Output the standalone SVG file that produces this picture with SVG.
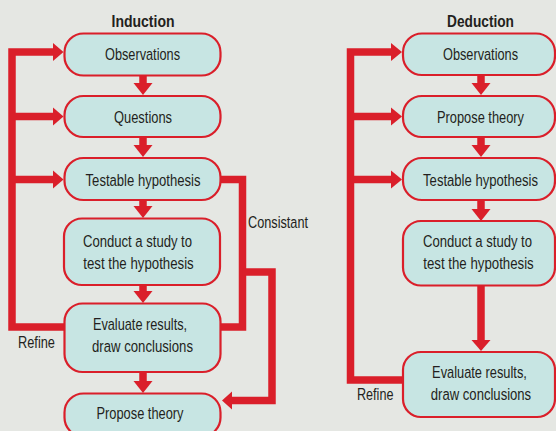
<svg xmlns="http://www.w3.org/2000/svg" width="556" height="431" viewBox="0 0 556 431">
<style>
.box{fill:#c7e5e3;stroke:#da1f2a;stroke-width:2.2}
.ln{fill:none;stroke:#da1f2a;stroke-width:7.5;stroke-linejoin:miter}
.hd{fill:#da1f2a}
text{font-family:"Liberation Sans",Arial,sans-serif;fill:#231f20;font-size:17px}
.c{text-anchor:middle}
.t{font-weight:bold;font-size:16.5px}
.lb{font-size:16.5px}
</style>
<rect width="556" height="431" fill="#e5e7e3"/>

<g id="connectors">
  <path class="ln" d="M64 327 H12 V52 H54"/>
  <path class="ln" d="M12 116.5 H54"/>
  <path class="ln" d="M12 179.5 H54"/>
  <polygon class="hd" points="53,43 63.5,52 53,61"/>
  <polygon class="hd" points="53,107.5 63.5,116.5 53,125.5"/>
  <polygon class="hd" points="53,170.5 63.5,179.5 53,188.5"/>
  <path class="ln" d="M143 76 V84"/>
  <polygon class="hd" points="133.5,83 152.5,83 143,95"/>
  <path class="ln" d="M143 137 V146"/>
  <polygon class="hd" points="133.5,145 152.5,145 143,157"/>
  <path class="ln" d="M143 200 V207"/>
  <polygon class="hd" points="133.5,206 152.5,206 143,218"/>
  <path class="ln" d="M143 285 V292"/>
  <polygon class="hd" points="133.5,291 152.5,291 143,303"/>
  <path class="ln" d="M143 372 V382"/>
  <polygon class="hd" points="133.5,381 152.5,381 143,393"/>
  <path class="ln" d="M220 179.5 H242.5 V327 H220"/>
  <path class="ln" d="M242.5 272 H272 V400.5 H231"/>
  <polygon class="hd" points="232,391.5 222,400.5 232,409.5"/>

  <path class="ln" d="M403 380 H350.5 V52 H392"/>
  <path class="ln" d="M350.5 116.5 H392"/>
  <path class="ln" d="M350.5 179.5 H392"/>
  <polygon class="hd" points="391,43 402,52 391,61"/>
  <polygon class="hd" points="391,107.5 402,116.5 391,125.5"/>
  <polygon class="hd" points="391,170.5 402,179.5 391,188.5"/>
  <path class="ln" d="M481 75 V84"/>
  <polygon class="hd" points="471.5,83 490.5,83 481,95"/>
  <path class="ln" d="M481 137 V146"/>
  <polygon class="hd" points="471.5,145 490.5,145 481,157"/>
  <path class="ln" d="M481 200 V210"/>
  <polygon class="hd" points="471.5,209 490.5,209 481,221"/>
  <path class="ln" d="M481 286 V341"/>
  <polygon class="hd" points="471.5,340 490.5,340 481,351"/>
</g>

<g id="labels">
  <text class="t c" transform="translate(143,27) scale(0.85,1)">Induction</text>
  <text class="t c" transform="translate(480.5,27) scale(0.83,1)">Deduction</text>
  <text class="lb" transform="translate(248,228) scale(0.77,1)">Consistant</text>
  <text class="lb" transform="translate(18,348) scale(0.775,1)">Refine</text>
  <text class="lb" transform="translate(357,400) scale(0.765,1)">Refine</text>
</g>

<g id="ind-observations">
  <rect class="box" x="64.5" y="33.5" width="156" height="42" rx="19"/>
  <text class="c" transform="translate(142.5,60) scale(0.75,1)">Observations</text>
</g>
<g id="ind-questions">
  <rect class="box" x="64.5" y="96" width="156" height="41" rx="19"/>
  <text class="c" transform="translate(143,123) scale(0.76,1)">Questions</text>
</g>
<g id="ind-testable">
  <rect class="box" x="64.5" y="158" width="156" height="42" rx="19"/>
  <text class="c" transform="translate(143,185.5) scale(0.77,1)">Testable hypothesis</text>
</g>
<g id="ind-conduct">
  <rect class="box" x="64" y="218.5" width="156" height="66.5" rx="18"/>
  <text class="c" transform="translate(137.5,247) scale(0.77,1)">Conduct a study to</text>
  <text class="c" transform="translate(138.5,268.5) scale(0.78,1)">test the hypothesis</text>
</g>
<g id="ind-evaluate">
  <rect class="box" x="64.5" y="303.5" width="156" height="68.5" rx="18"/>
  <text class="c" transform="translate(140,330) scale(0.75,1)">Evaluate results,</text>
  <text class="c" transform="translate(142.5,352) scale(0.775,1)">draw conclusions</text>
</g>
<g id="ind-propose">
  <rect class="box" x="64.5" y="393.5" width="156" height="43" rx="19"/>
  <text class="c" transform="translate(140,418.5) scale(0.755,1)">Propose theory</text>
</g>

<g id="ded-observations">
  <rect class="box" x="403" y="33.5" width="152" height="41.5" rx="19"/>
  <text class="c" transform="translate(480.5,60) scale(0.75,1)">Observations</text>
</g>
<g id="ded-propose">
  <rect class="box" x="403" y="96" width="152" height="41" rx="19"/>
  <text class="c" transform="translate(480.5,123) scale(0.755,1)">Propose theory</text>
</g>
<g id="ded-testable">
  <rect class="box" x="403" y="158" width="152" height="42" rx="19"/>
  <text class="c" transform="translate(480.5,185.5) scale(0.77,1)">Testable hypothesis</text>
</g>
<g id="ded-conduct">
  <rect class="box" x="403" y="221" width="152" height="64.5" rx="18"/>
  <text class="c" transform="translate(477.5,247) scale(0.77,1)">Conduct a study to</text>
  <text class="c" transform="translate(478.5,269) scale(0.78,1)">test the hypothesis</text>
</g>
<g id="ded-evaluate">
  <rect class="box" x="403" y="352" width="152" height="65" rx="18"/>
  <text class="c" transform="translate(479.5,378) scale(0.755,1)">Evaluate results,</text>
  <text class="c" transform="translate(481,400) scale(0.77,1)">draw conclusions</text>
</g>
</svg>
